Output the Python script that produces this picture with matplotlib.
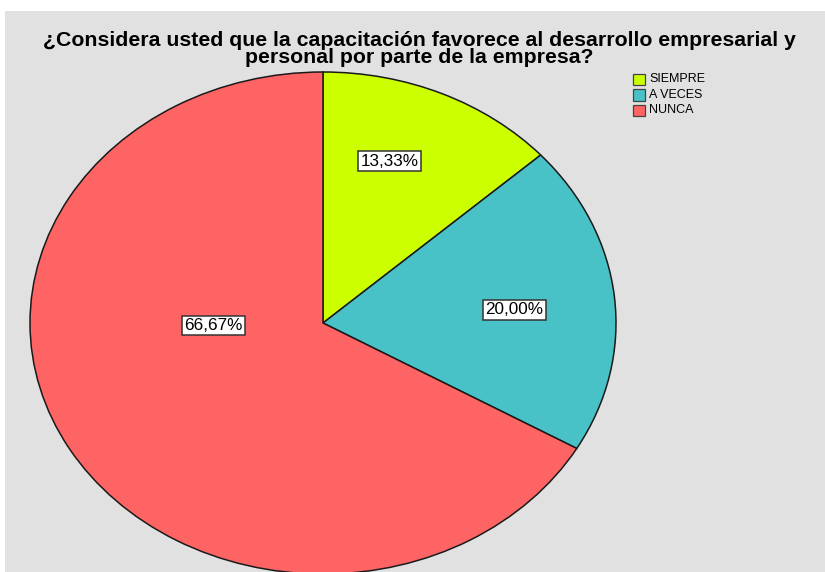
import matplotlib.pyplot as plt
from matplotlib.patches import Rectangle

categorias = ['SIEMPRE', 'A VECES', 'NUNCA']
porcentajes = [13.33, 20.00, 66.67]
colores = ['#ccff00', '#48c2c6', '#ff6464']
titulo = '¿Considera usted que la capacitación favorece al desarrollo empresarial y\npersonal por parte de la empresa?'

plt.rcParams['font.family'] = ['Liberation Sans', 'DejaVu Sans']

fig = plt.figure(figsize=(8.25, 5.72), dpi=100)
fig.patch.set_facecolor('white')
# panel gris de fondo
fondo = Rectangle((5/825, 0), 1, 1 - 11/572, transform=fig.transFigure,
                  facecolor='#e1e1e1', edgecolor='none', zorder=-5)
fig.patches.append(fondo)

fig.text(0.508, 1 - 49/572, titulo, ha='center', va='center', fontsize=15.3,
         fontweight='bold', linespacing=0.92, zorder=5)

# ejes para pie eliptico
ax = fig.add_axes([30/825, -2/572, 586/825, 502/572])
ax.set_zorder(2)
ax.patch.set_alpha(0)
wedges, textos, autotextos = ax.pie(porcentajes, colors=colores, startangle=90,
                                    counterclock=False, autopct='%.2f%%',
                                    wedgeprops=dict(edgecolor='#1a1a1a', linewidth=1.1))
ax.set_aspect('auto')
ax.set_xlim(-1, 1)
ax.set_ylim(-1, 1)
ax.axis('off')

# posiciones de etiquetas como en SPSS
pos = [(0.227, 0.645), (0.654, 0.052), (-0.375, -0.01)]
for t, p in zip(autotextos, pos):
    t.set_text(t.get_text().replace('.', ','))
    t.set_position(p)
    t.set_fontsize(12.3)
    t.set_ha('center')
    t.set_va('center')
    t.set_bbox(dict(boxstyle='square,pad=0.14', facecolor='white', edgecolor='#333333', linewidth=1.1))

# leyenda
for i, (c, col) in enumerate(zip(categorias, colores)):
    y = 1 - (79 + i * 15.5) / 572
    fig.patches.append(Rectangle((633/825, y - 6/572), 12/825, 11/572, transform=fig.transFigure,
                                 facecolor=col, edgecolor='#444444', linewidth=0.9, zorder=5))
    fig.text(649/825, y, c, fontsize=9, va='center', ha='left', zorder=5)

plt.savefig('out.png', dpi=100)
